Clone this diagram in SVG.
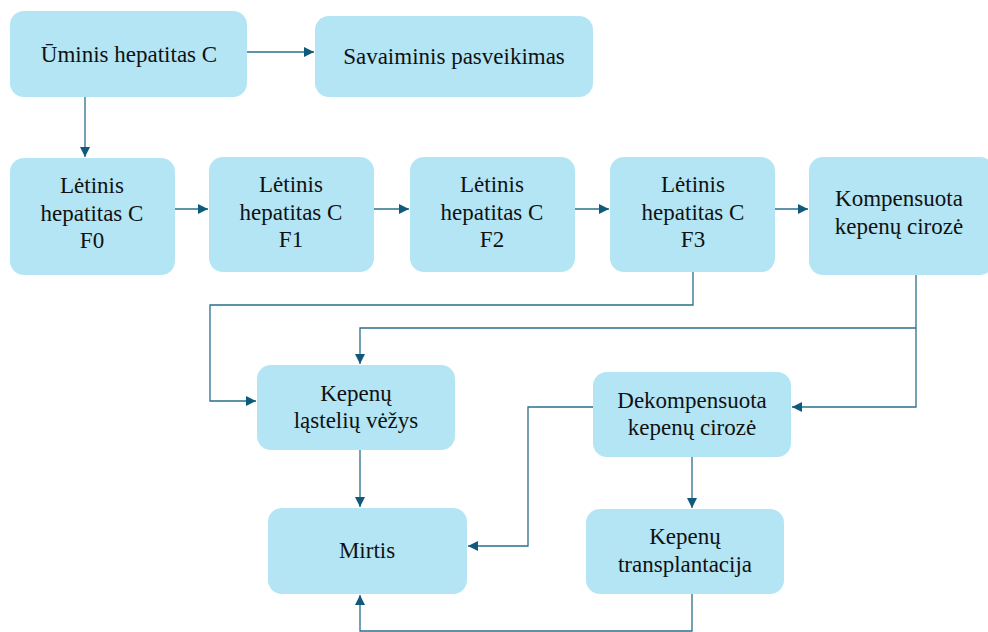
<svg xmlns="http://www.w3.org/2000/svg" width="988" height="632" viewBox="0 0 988 632">
<defs>
<style>
.n{fill:#b3e5f5;}
.t{font-family:"Liberation Serif","Times New Roman",serif;font-size:23px;fill:#111;text-anchor:middle;}
.c{fill:none;stroke:#2a6f8c;stroke-width:1.3;}
</style>
<marker id="a" viewBox="0 0 10 10" refX="10" refY="5" markerWidth="10" markerHeight="10" markerUnits="userSpaceOnUse" orient="auto">
<path d="M0,0 L10,5 L0,10 z" fill="#0f5a7a"/>
</marker>
</defs>
<rect width="988" height="632" fill="#fff"/>
<g id="connectors">
<path class="c" d="M247,52 H314" marker-end="url(#a)"/>
<path class="c" d="M85,97 V157" marker-end="url(#a)"/>
<path class="c" d="M175,209 H208" marker-end="url(#a)"/>
<path class="c" d="M374,209 H409" marker-end="url(#a)"/>
<path class="c" d="M575,209 H609" marker-end="url(#a)"/>
<path class="c" d="M775,209 H808" marker-end="url(#a)"/>
<path class="c" d="M693,272 V305 H210 V401 H256" marker-end="url(#a)"/>
<path class="c" d="M916,275 V407 H792" marker-end="url(#a)"/>
<path class="c" d="M916,328 H360 V364" marker-end="url(#a)"/>
<path class="c" d="M360,450 V507" marker-end="url(#a)"/>
<path class="c" d="M593,407 H528 V546 H468" marker-end="url(#a)"/>
<path class="c" d="M692,457 V508" marker-end="url(#a)"/>
<path class="c" d="M692,594 V631 H360 V595" marker-end="url(#a)"/>
</g>
<g id="n1"><rect class="n" x="10" y="11" width="237" height="86" rx="14"/><text class="t" x="129" y="62">Ūminis hepatitas C</text></g>
<g id="n2"><rect class="n" x="315" y="16" width="278" height="81" rx="14"/><text class="t" x="454" y="64">Savaiminis pasveikimas</text></g>
<g id="n3"><rect class="n" x="10" y="158" width="165" height="117" rx="14"/><text class="t" x="92" y="193">Lėtinis</text><text class="t" x="92" y="221">hepatitas C</text><text class="t" x="92" y="248">F0</text></g>
<g id="n4"><rect class="n" x="209" y="157" width="165" height="115" rx="14"/><text class="t" x="291" y="192">Lėtinis</text><text class="t" x="291" y="220">hepatitas C</text><text class="t" x="291" y="247">F1</text></g>
<g id="n5"><rect class="n" x="410" y="157" width="165" height="115" rx="14"/><text class="t" x="492" y="192">Lėtinis</text><text class="t" x="492" y="220">hepatitas C</text><text class="t" x="492" y="247">F2</text></g>
<g id="n6"><rect class="n" x="610" y="157" width="165" height="115" rx="14"/><text class="t" x="693" y="192">Lėtinis</text><text class="t" x="693" y="220">hepatitas C</text><text class="t" x="693" y="247">F3</text></g>
<g id="n7"><rect class="n" x="809" y="157" width="185" height="118" rx="14"/><text class="t" x="899" y="206">Kompensuota</text><text class="t" x="899" y="234">kepenų cirozė</text></g>
<g id="n8"><rect class="n" x="257" y="365" width="198" height="85" rx="14"/><text class="t" x="356" y="401">Kepenų</text><text class="t" x="356" y="428">ląstelių vėžys</text></g>
<g id="n9"><rect class="n" x="593" y="372" width="198" height="85" rx="14"/><text class="t" x="692" y="408">Dekompensuota</text><text class="t" x="692" y="435">kepenų cirozė</text></g>
<g id="n10"><rect class="n" x="268" y="508" width="199" height="86" rx="14"/><text class="t" x="367" y="558">Mirtis</text></g>
<g id="n11"><rect class="n" x="586" y="509" width="198" height="85" rx="14"/><text class="t" x="685" y="544">Kepenų</text><text class="t" x="685" y="572">transplantacija</text></g>
</svg>
